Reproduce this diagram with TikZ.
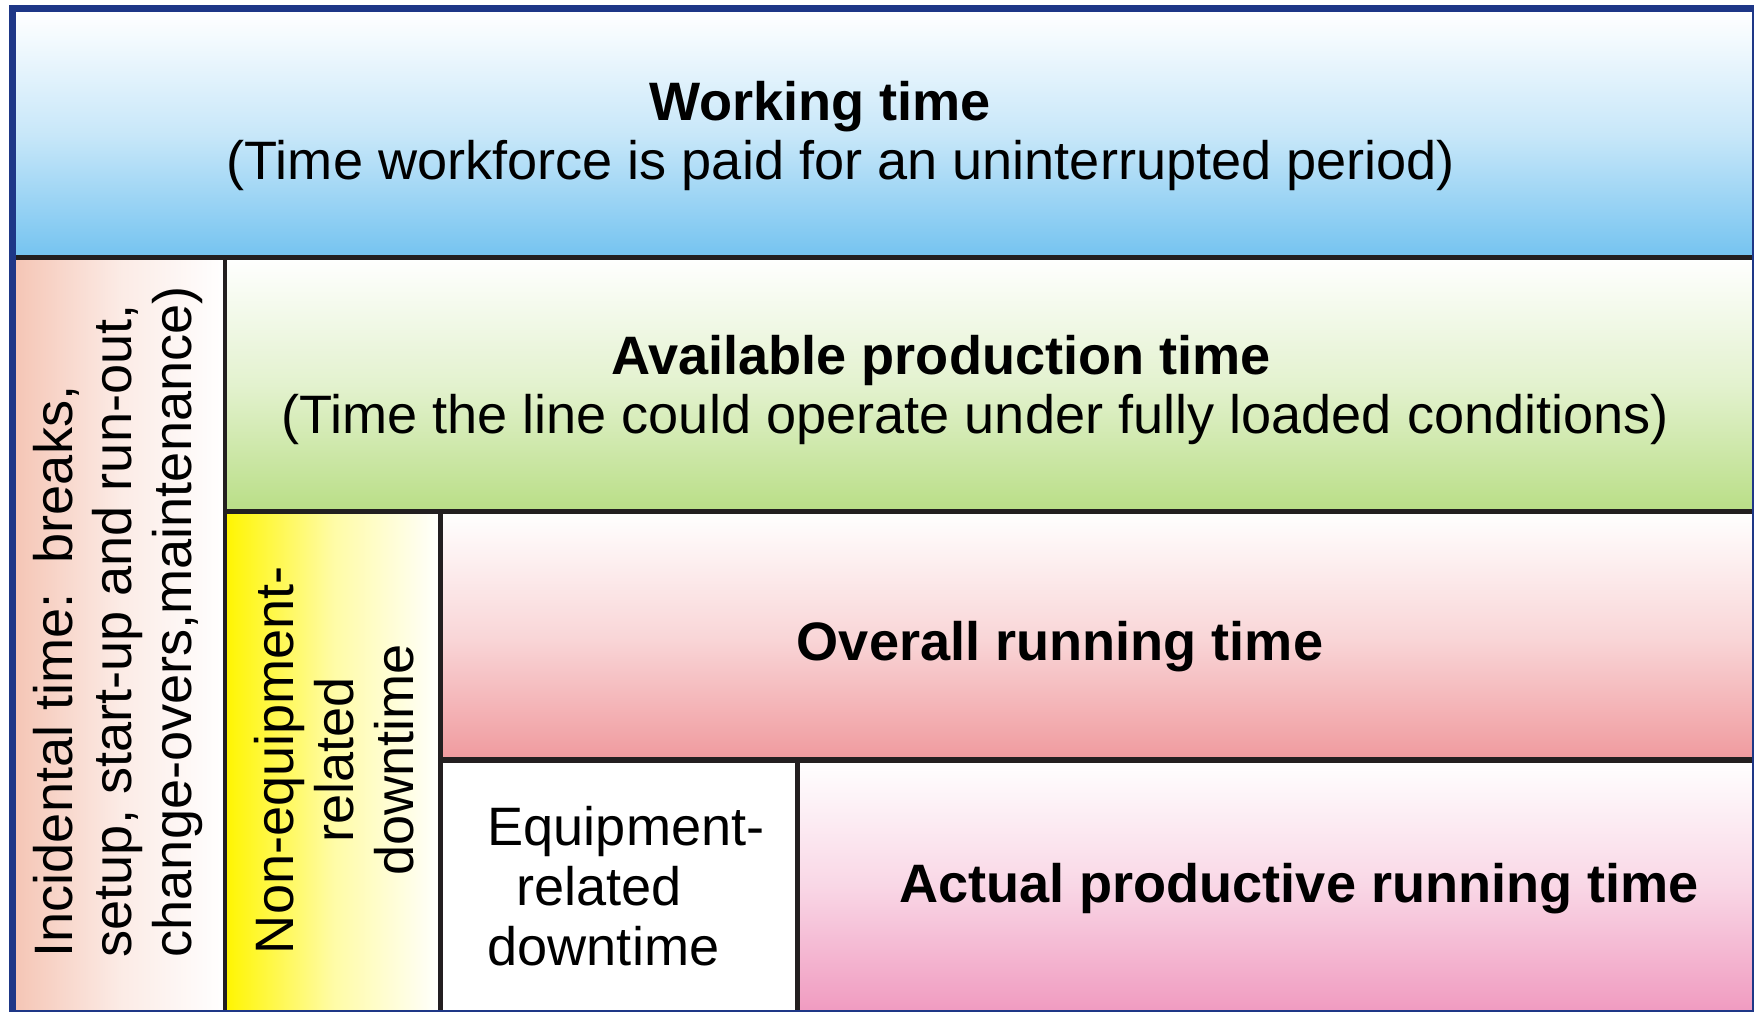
\documentclass[tikz,border=0pt]{standalone}
\usepackage{fontspec}
\setmainfont{Liberation Sans}
\definecolor{workblue}{HTML}{74C3F0}
\definecolor{availgreen}{HTML}{B9DE86}
\definecolor{overred}{HTML}{F09A9E}
\definecolor{actpink}{HTML}{F09BC0}
\definecolor{incsalmon}{HTML}{F5C6B6}
\definecolor{neyellow}{HTML}{FFF500}
\definecolor{framenavy}{HTML}{1E3787}
\definecolor{sepblack}{HTML}{231F20}
\begin{document}
\begin{tikzpicture}[x=0.1mm, y=-0.1mm,
    vfade/.style={top color=white, bottom color=#1, middle color=#1!40!white},
    hfade/.style={left color=#1, right color=white, middle color=#1!35!white},
    sep/.style={draw=sepblack, line width=0.45mm},
    lbl/.style={inner sep=0pt, font=\fontsize{15.4}{17}\selectfont},
    head/.style={inner sep=0pt, font=\fontsize{15.4}{17}\selectfont\bfseries}]
  \useasboundingbox (0,0) rectangle (1754,1011);
  % cells
  \shade[vfade=workblue] (16,12) rectangle (1752,257.5);
  \shade[hfade=incsalmon] (16,257.5) rectangle (225,1011);
  \shade[vfade=availgreen] (225,257.5) rectangle (1752,511.5);
  \shade[hfade=neyellow] (225,511.5) rectangle (441.5,1011);
  \shade[vfade=overred] (441.5,511.5) rectangle (1752,760);
  \fill[white] (441.5,760) rectangle (797.5,1011);
  \shade[vfade=actpink] (797.5,760) rectangle (1752,1011);
  % separators
  \draw[sep] (16,257.5) -- (1752,257.5);
  \draw[sep] (225,257.5) -- (225,1011);
  \draw[sep] (225,511.5) -- (1752,511.5);
  \draw[sep] (440.5,511.5) -- (440.5,1011);
  \draw[sep, line width=0.6mm] (440.5,760) -- (1752,760);
  \draw[sep] (797.5,760) -- (797.5,1011);
  \draw[framenavy, line width=0.7mm] (12,8.5) rectangle (1755,1013.5);
  % labels
  \node[head, anchor=base] (worktitle) at (820,120) {Working time};
  \node[lbl, anchor=base] (worksub) at (841,179) {(Time workforce is paid for an uninterrupted period)};
  \node[head, anchor=base] (availtitle) at (941,374) {Available production time};
  \node[lbl, anchor=base] (availsub) at (975,433) {(Time the line could operate under fully loaded conditions)};
  \node[head, anchor=base] (overtitle) at (1060,660) {Overall running time};
  \node[head, anchor=base] (acttitle) at (1299,902) {Actual productive running time};
  \node[lbl, align=left] (equiptxt) at (626,886) {Equipment-\\\hspace*{2.9mm}related\\downtime};
  \node[lbl, align=left, rotate=90, anchor=west] (inctxt) at (118,958) {Incidental time:\ \ breaks,\\setup, start-up and run-out,\\change-overs,maintenance)};
  \node[lbl, align=center, rotate=90] (netxt) at (334,760) {Non-equipment-\\related\\downtime};
\end{tikzpicture}
\end{document}
